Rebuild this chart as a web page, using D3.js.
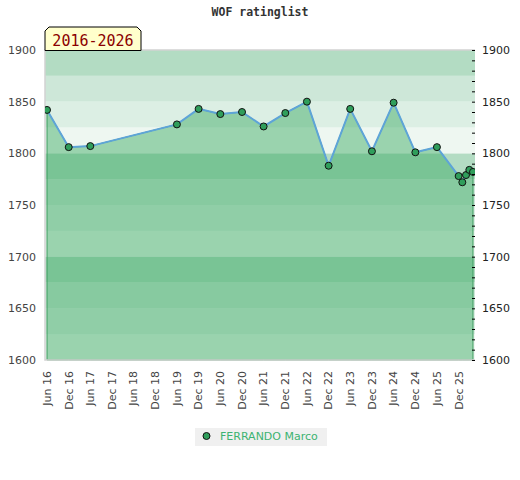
<!DOCTYPE html>
<html>
<head>
<meta charset="utf-8">
<script src="https://cdn.jsdelivr.net/npm/d3@7"></script>
<style>
  body { margin: 0; background: #fff; }
  svg { display: block; font-family: "DejaVu Sans", sans-serif; }
</style>
</head>
<body>
<div id="chart"></div>
<script>
// rating list entries (month of list, rating)
const listMonths = ["2016-06", "2016-12", "2017-06", "2019-06", "2019-12", "2020-06", "2020-12",
  "2021-06", "2021-12", "2022-06", "2022-12", "2023-06", "2023-12", "2024-06", "2024-12",
  "2025-06", "2025-12", "2026-01", "2026-02", "2026-03", "2026-04"];
const ratings = [1842, 1806, 1807, 1828, 1843, 1838, 1840, 1826, 1839, 1850, 1788, 1843,
  1802, 1849, 1801, 1806, 1778, 1772, 1779, 1784, 1782];

// x axis ticks, every half year
const tickMonths = ["2016-06", "2016-12", "2017-06", "2017-12", "2018-06", "2018-12", "2019-06",
  "2019-12", "2020-06", "2020-12", "2021-06", "2021-12", "2022-06", "2022-12", "2023-06",
  "2023-12", "2024-06", "2024-12", "2025-06", "2025-12"];
const yLabels = [1600, 1650, 1700, 1750, 1800, 1850, 1900];

const playerName = "FERRANDO Marco";
const chartTitle = "WOF ratinglist";
const periodLabel = "2016-2026";

const width = 520, height = 480;
const plot = { left: 45, right: 475, top: 50, bottom: 360 };

const parseMonth = d3.utcParse("%Y-%m");
const data = listMonths.map((m, i) => ({ date: parseMonth(m), rating: ratings[i] }));

const svg = d3.select("#chart").append("svg")
  .attr("width", width)
  .attr("height", height);

const x = d3.scaleUtc()
  .domain([parseMonth("2016-06"), parseMonth("2026-04")])
  .range([47, 473]);

const y = d3.scaleLinear()
  .domain([1600, 1900])
  .range([plot.bottom, plot.top]);

// background bands, 4 shades per 100 points (lightest at the bottom)
const bandShades = ["#eef7f1", "#dcefe4", "#cde7d8", "#b3dcc3"];
svg.append("g")
  .selectAll("rect")
  .data(d3.range(1600, 1900, 25))
  .join("rect")
  .attr("x", plot.left)
  .attr("width", plot.right - plot.left)
  .attr("y", d => y(d + 25))
  .attr("height", d => y(d) - y(d + 25))
  .attr("fill", d => bandShades[((d - 1600) % 100) / 25]);

svg.append("clipPath").attr("id", "plotclip")
  .append("rect")
  .attr("x", plot.left).attr("y", plot.top - 6)
  .attr("width", plot.right - plot.left).attr("height", plot.bottom - plot.top + 6);

// area under the rating line
const area = d3.area()
  .x(d => x(d.date))
  .y0(y(1600))
  .y1(d => y(d.rating));

svg.append("path")
  .datum(data)
  .attr("d", area)
  .attr("fill", "rgba(52,167,94,0.45)")
  .attr("stroke", "#3d9c5e")
  .attr("stroke-width", 1);

// plot frame
svg.append("path")
  .attr("d", `M${plot.right},${plot.top}H${plot.left}V${plot.bottom}H${plot.right}`)
  .attr("fill", "none")
  .attr("stroke", "#d2d2d2")
  .attr("stroke-width", 1.5);

const line = d3.line()
  .x(d => x(d.date))
  .y(d => y(d.rating));

svg.append("path")
  .datum(data)
  .attr("d", line)
  .attr("fill", "none")
  .attr("stroke", "#5ea4d8")
  .attr("stroke-width", 2);

svg.append("g")
  .attr("clip-path", "url(#plotclip)")
  .selectAll("circle")
  .data(data)
  .join("circle")
  .attr("cx", d => x(d.date))
  .attr("cy", d => y(d.rating))
  .attr("r", 3.5)
  .attr("fill", "#2f9e5b")
  .attr("stroke", "#111")
  .attr("stroke-width", 1);

// left axis: labels only
const leftAxis = svg.append("g")
  .attr("transform", `translate(${plot.left},0)`)
  .call(d3.axisLeft(y).tickValues(yLabels).tickSize(0).tickPadding(9).tickFormat(d3.format("d")));
leftAxis.select(".domain").remove();
leftAxis.selectAll("text")
  .attr("font-family", "DejaVu Sans, sans-serif")
  .attr("font-size", 11)
  .attr("fill", "#444");

// right axis: minor ticks every 10, labels every 50
const rightAxis = svg.append("g")
  .attr("transform", `translate(${plot.right},0)`)
  .call(d3.axisRight(y)
    .tickValues(d3.range(1600, 1901, 10))
    .tickSizeInner(-3)
    .tickSizeOuter(0)
    .tickPadding(7)
    .tickFormat(d => yLabels.includes(d) ? d : ""));
rightAxis.select(".domain").remove();
rightAxis.selectAll("line").attr("stroke", "#000");
rightAxis.selectAll("text")
  .attr("font-family", "DejaVu Sans, sans-serif")
  .attr("font-size", 11)
  .attr("fill", "#222");

// x axis labels, rotated
const fmt = d3.utcFormat("%b %y");
svg.append("g")
  .selectAll("text")
  .data(tickMonths.map(parseMonth))
  .join("text")
  .attr("transform", d => `translate(${x(d)},371) rotate(-90)`)
  .attr("dy", "0.35em")
  .attr("text-anchor", "end")
  .attr("font-size", 11)
  .attr("fill", "#444")
  .text(d => fmt(d));

// title
svg.append("text")
  .attr("x", width / 2)
  .attr("y", 16)
  .attr("text-anchor", "middle")
  .attr("font-family", "DejaVu Sans Mono, monospace")
  .attr("font-weight", "bold")
  .attr("font-size", 11.5)
  .attr("fill", "#333")
  .text(chartTitle);

// period label box with bevelled top corners
svg.append("path")
  .attr("d", "M45,50.5V31L49,27H137L141,31V50.5Z")
  .attr("fill", "#ffffcc")
  .attr("stroke", "#000")
  .attr("stroke-width", 1);
svg.append("text")
  .attr("x", 93)
  .attr("y", 45.5)
  .attr("text-anchor", "middle")
  .attr("font-family", "DejaVu Sans Mono, monospace")
  .attr("font-size", 15)
  .attr("fill", "#8b0000")
  .text(periodLabel);

// legend
const legend = svg.append("g");
legend.append("rect")
  .attr("x", 195).attr("y", 428)
  .attr("width", 132).attr("height", 18)
  .attr("fill", "#f0f0f0");
legend.append("circle")
  .attr("cx", 206.5).attr("cy", 436)
  .attr("r", 3.5)
  .attr("fill", "#2f9e5b")
  .attr("stroke", "#111");
legend.append("text")
  .attr("x", 220).attr("y", 440)
  .attr("font-size", 11)
  .attr("fill", "#3cb371")
  .text(playerName);
</script>
</body>
</html>
